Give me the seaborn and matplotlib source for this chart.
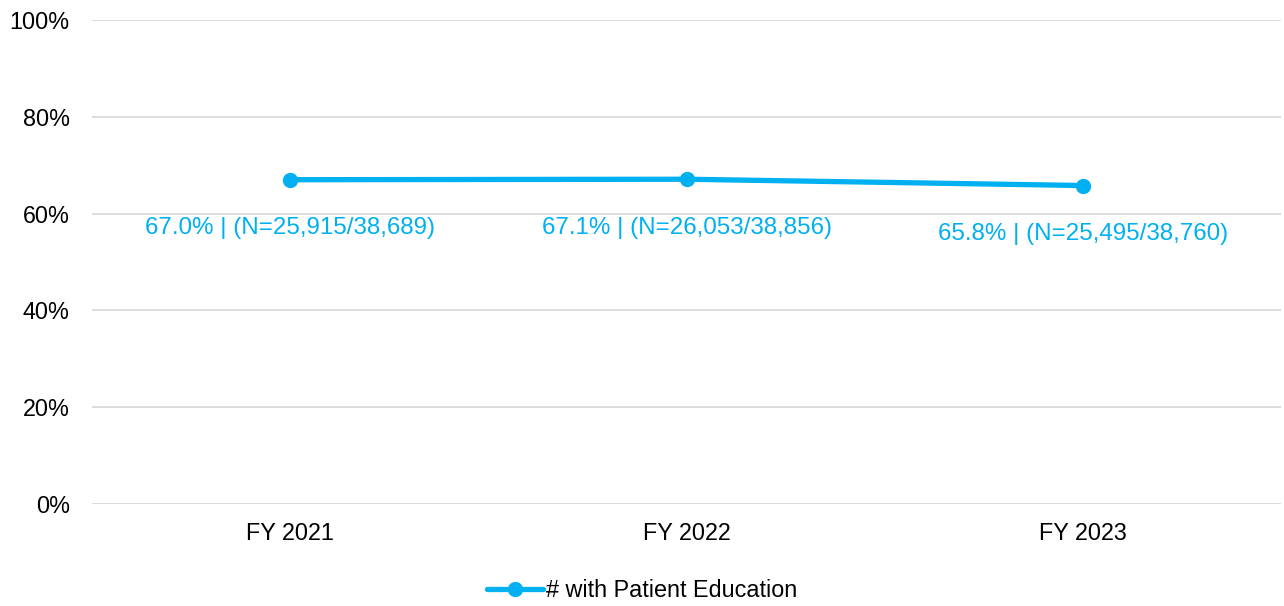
import pandas as pd
import matplotlib.pyplot as plt
import seaborn as sns

# Data
years = ['FY 2021', 'FY 2022', 'FY 2023']
pct = [67.0, 67.1, 65.8]
numer = ['25,915', '26,053', '25,495']
denom = ['38,689', '38,856', '38,760']
series_name = '# with Patient Education'

df = pd.DataFrame({'year': years, 'pct': pct, 'series': series_name})

sns.set_style('white')
plt.rcParams['font.family'] = ['Liberation Sans', 'DejaVu Sans']
plt.rcParams['text.color'] = 'black'

color = '#00B0F0'
fs = 16.8

fig = plt.figure(figsize=(12.84, 6.06), dpi=100)
ax = fig.add_axes([0.0717, 0.1683, 0.9263, 0.7987])

sns.lineplot(data=df, x='year', y='pct', hue='series', palette=[color], marker='o',
             markersize=11, markeredgewidth=0, linewidth=3.8, ax=ax)

# data labels under the points
for i, (p, n, d) in enumerate(zip(pct, numer, denom)):
    ax.annotate(f'{p:.1f}% | (N={n}/{d})', xy=(i, p), xytext=(0, -35),
                textcoords='offset points', ha='center', va='center',
                fontsize=17.4, color=color)

ax.set_xlim(-0.5, 2.5)
ax.set_ylim(0, 100)
ax.set_yticks(range(0, 101, 20))
ax.set_yticklabels([f'{v}%' for v in range(0, 101, 20)])
ax.grid(axis='y', color='#D9D9D9', linewidth=1.3)
ax.set_axisbelow(True)
sns.despine(ax=ax, left=True, bottom=True)
ax.tick_params(axis='y', length=0, labelsize=fs, colors='black', pad=16)
ax.tick_params(axis='x', length=0, labelsize=fs, colors='black', pad=13)
ax.set_xlabel('')
ax.set_ylabel('')

handles, labels = ax.get_legend_handles_labels()
ax.get_legend().remove()
fig.legend(handles, labels, loc='center', bbox_to_anchor=(0.5, 0.025), frameon=False,
           fontsize=fs, handlelength=2.4, handletextpad=0.1, labelcolor='black')

fig.savefig('out.png', dpi=100)
